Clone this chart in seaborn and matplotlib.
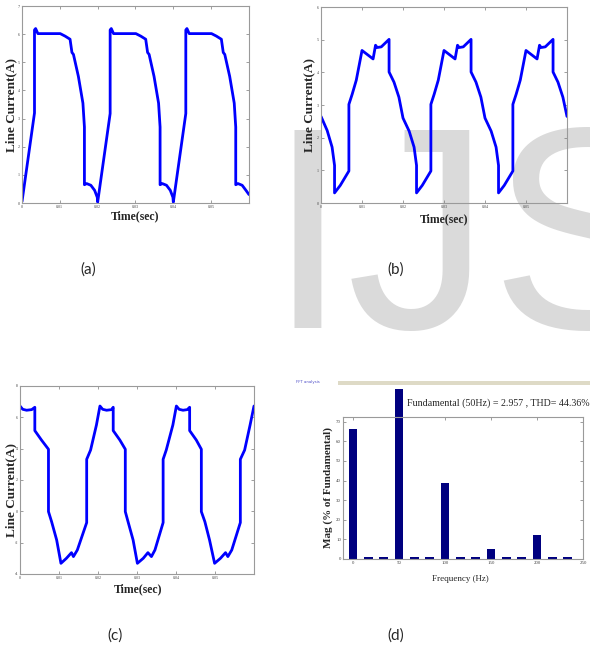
import matplotlib
matplotlib.use("Agg")
import matplotlib.pyplot as plt
from matplotlib.patches import Rectangle
import pandas as pd
import seaborn as sns

# (a) line current, time in sec
a_time = [
    0.0000, 0.0033, 0.0033, 0.0036, 0.0042, 0.0101, 0.0114, 0.0127, 0.0132, 0.0136, 0.0149, 0.0161, 0.0165, 0.0165, 0.0171, 0.0182, 0.0192, 0.0199,
    0.0200, 0.0233, 0.0233, 0.0236, 0.0242, 0.0301, 0.0314, 0.0327, 0.0332, 0.0336, 0.0349, 0.0361, 0.0365, 0.0365, 0.0371, 0.0382, 0.0392, 0.0399,
    0.0400, 0.0433, 0.0433, 0.0436, 0.0442, 0.0501, 0.0514, 0.0527, 0.0532, 0.0536, 0.0549, 0.0561, 0.0565, 0.0565, 0.0571, 0.0582, 0.0592, 0.0600]
a_current = [
    0.05, 3.20, 6.15, 6.20, 6.02, 6.02, 5.93, 5.82, 5.35, 5.28, 4.50, 3.55, 2.70, 0.65, 0.69, 0.63, 0.45, 0.20,
    0.03, 3.18, 6.15, 6.20, 6.02, 6.02, 5.93, 5.82, 5.35, 5.28, 4.50, 3.55, 2.70, 0.65, 0.69, 0.63, 0.45, 0.20,
    0.03, 3.18, 6.15, 6.20, 6.02, 6.02, 5.93, 5.82, 5.35, 5.28, 4.50, 3.55, 2.70, 0.65, 0.69, 0.63, 0.45, 0.30]

# (b)
b_time = [
    0.0000, 0.0015, 0.0027, 0.0033, 0.0033, 0.0047, 0.0068, 0.0068, 0.0076, 0.0086, 0.0100, 0.0127, 0.0133, 0.0137, 0.0147, 0.0166, 0.0166, 0.0178, 0.0190,
    0.0200, 0.0215, 0.0227, 0.0233, 0.0233, 0.0247, 0.0268, 0.0268, 0.0276, 0.0286, 0.0300, 0.0327, 0.0333, 0.0337, 0.0347, 0.0366, 0.0366, 0.0378, 0.0390,
    0.0400, 0.0415, 0.0427, 0.0433, 0.0433, 0.0447, 0.0468, 0.0468, 0.0476, 0.0486, 0.0500, 0.0527, 0.0533, 0.0537, 0.0547, 0.0566, 0.0566, 0.0578, 0.0590, 0.0600]
b_current = [
    2.65, 2.22, 1.71, 1.15, 0.31, 0.54, 0.98, 3.02, 3.33, 3.76, 4.67, 4.41, 4.83, 4.76, 4.78, 5.01, 4.01, 3.70, 3.24,
    2.60, 2.20, 1.71, 1.15, 0.31, 0.54, 0.98, 3.02, 3.33, 3.76, 4.67, 4.41, 4.83, 4.76, 4.78, 5.01, 4.01, 3.70, 3.24,
    2.60, 2.20, 1.71, 1.15, 0.31, 0.54, 0.98, 3.02, 3.33, 3.76, 4.67, 4.41, 4.83, 4.76, 4.78, 5.01, 4.01, 3.70, 3.24, 2.65]

# (c)
c_time = [
    0.0000, 0.0007, 0.0017, 0.0030, 0.0038, 0.0038, 0.0055, 0.0073, 0.0073, 0.0081, 0.0094, 0.0105, 0.0119, 0.0132, 0.0137, 0.0147, 0.0171, 0.0171, 0.0181, 0.0196,
    0.0205, 0.0212, 0.0222, 0.0235, 0.0239, 0.0239, 0.0256, 0.0270, 0.0270, 0.0277, 0.0290, 0.0301, 0.0316, 0.0328, 0.0337, 0.0346, 0.0367, 0.0367, 0.0375, 0.0392,
    0.0401, 0.0408, 0.0418, 0.0429, 0.0435, 0.0435, 0.0452, 0.0465, 0.0465, 0.0474, 0.0486, 0.0499, 0.0514, 0.0527, 0.0533, 0.0543, 0.0565, 0.0565, 0.0576, 0.0590, 0.0600]
c_current = [
    6.72, 6.51, 6.45, 6.49, 6.64, 5.15, 4.55, 3.96, -0.02, -0.66, -1.83, -3.32, -3.00, -2.64, -2.89, -2.47, -0.72, 3.32, 3.91, 5.51,
    6.72, 6.51, 6.45, 6.49, 6.64, 5.15, 4.55, 3.96, -0.02, -0.66, -1.83, -3.32, -3.00, -2.64, -2.89, -2.47, -0.72, 3.32, 3.91, 5.51,
    6.72, 6.51, 6.45, 6.49, 6.64, 5.15, 4.55, 3.96, -0.02, -0.66, -1.83, -3.32, -3.00, -2.64, -2.89, -2.47, -0.72, 3.32, 3.91, 5.51, 6.72]

# (d) FFT spectrum
d_freq = [0, 16.7, 33.3, 50, 66.7, 83.3, 100, 116.7, 133.3, 150, 166.7, 183.3, 200, 216.7, 233.3]
d_mag = [66.5, 1.0, 1.0, 86.5, 1.0, 1.0, 38.5, 1.0, 1.0, 5.2, 1.0, 1.0, 12.0, 1.0, 1.0]

t_ticks = [0, 0.01, 0.02, 0.03, 0.04, 0.05]
t_labels = ["0", "0.01", "0.02", "0.03", "0.04", "0.05"]

sns.set_style("white")
plt.rcParams["font.family"] = ["Liberation Serif", "DejaVu Serif"]

BLUE = "#0000ff"
FRAME = "#9a9a9a"


def style_axes(ax):
    ax.set_facecolor("none")
    for s in ax.spines.values():
        s.set_color(FRAME)
        s.set_linewidth(0.8)
        s.set_visible(True)
    ax.tick_params(direction="in", length=2.5, width=0.5, color="#777777",
                   labelsize=3, labelcolor="#444444", pad=1.5,
                   top=True, right=True, bottom=True, left=True)


def wave_panel(ax, t, cur, ylim, yticks):
    df = pd.DataFrame({"t": t, "i": cur})
    sns.lineplot(data=df, x="t", y="i", sort=False, estimator=None,
                 color=BLUE, lw=2.0, ax=ax)
    ax.set_xlim(0, 0.06)
    ax.set_ylim(*ylim)
    ax.set_xticks(t_ticks)
    ax.set_xticklabels(t_labels)
    ax.set_yticks(yticks)
    ax.set_yticklabels([str(v) for v in yticks])
    ax.set_xlabel("Time(sec)", fontsize=8.5, fontweight="bold")
    ax.set_ylabel("Line Current(A)", fontsize=9.5, fontweight="bold")
    style_axes(ax)


fig = plt.figure(figsize=(5.9, 6.49), dpi=100)

# watermark behind everything
fig.text(268 / 590, 1 - 328 / 649, "IJS", fontsize=207, family="Liberation Sans",
         color="#dadada", ha="left", va="baseline", zorder=-5)

ax_a = fig.add_axes([0.0373, 0.6872, 0.3847, 0.3035])
wave_panel(ax_a, a_time, a_current, (0, 7), list(range(0, 8)))
ax_a.xaxis.set_label_coords(0.498, -0.035)
ax_a.yaxis.set_label_coords(-0.022, 0.497)

ax_b = fig.add_axes([0.5441, 0.6872, 0.4169, 0.302])
wave_panel(ax_b, b_time, b_current, (0, 6), list(range(0, 7)))
ax_b.xaxis.set_label_coords(0.5, -0.051)
ax_b.yaxis.set_label_coords(-0.024, 0.5)

ax_c = fig.add_axes([0.0339, 0.1156, 0.3966, 0.2897])
wave_panel(ax_c, c_time, c_current, (-4, 8), list(range(-4, 9, 2)))
ax_c.xaxis.set_label_coords(0.504, -0.048)
ax_c.yaxis.set_label_coords(-0.013, 0.447)

ax_d = fig.add_axes([0.5814, 0.1387, 0.4068, 0.2188])
sns.barplot(x=d_freq, y=d_mag, native_scale=True, width=0.56, color="#00007f",
            saturation=1, errorbar=None, linewidth=0, ax=ax_d)
for p in ax_d.patches:
    p.set_clip_on(False)
ax_d.set_xlim(-11, 250)
ax_d.set_ylim(0, 72.4)
ax_d.set_xticks([0, 50, 100, 150, 200, 250])
ax_d.set_xticklabels(["0", "50", "100", "150", "200", "250"])
ax_d.set_yticks(list(range(0, 71, 10)))
ax_d.set_yticklabels([str(v) for v in range(0, 71, 10)])
ax_d.set_xlabel("Frequency (Hz)", fontsize=6.5)
ax_d.set_ylabel("Mag (% of Fundamental)", fontsize=8, fontweight="bold")
ax_d.xaxis.set_label_coords(0.49, -0.113)
ax_d.yaxis.set_label_coords(-0.042, 0.5)
style_axes(ax_d)
ax_d.tick_params(labelsize=3.5)
ax_d.text(0.267, 1.10, "Fundamental (50Hz) = 2.957 , THD= 44.36%",
          transform=ax_d.transAxes, fontsize=7.2, va="center", ha="left")

# FFT window header strip
fig.add_artist(Rectangle((338 / 590, 1 - 385 / 649), 252 / 590, 4 / 649,
                         transform=fig.transFigure, color="#dedac6", lw=0))
fig.text(296 / 590, 1 - 382 / 649, "FFT analysis", fontsize=2.8, color="#5050c8",
         family="DejaVu Sans", va="center")

# panel captions
for x, y, s in [(88, 270, "(a)"), (396, 270, "(b)"), (115, 636, "(c)"), (396, 636, "(d)")]:
    fig.text(x / 590, 1 - y / 649, s, fontsize=11, family="Lato",
             ha="center", va="center")

fig.savefig("out.png", dpi=100)
